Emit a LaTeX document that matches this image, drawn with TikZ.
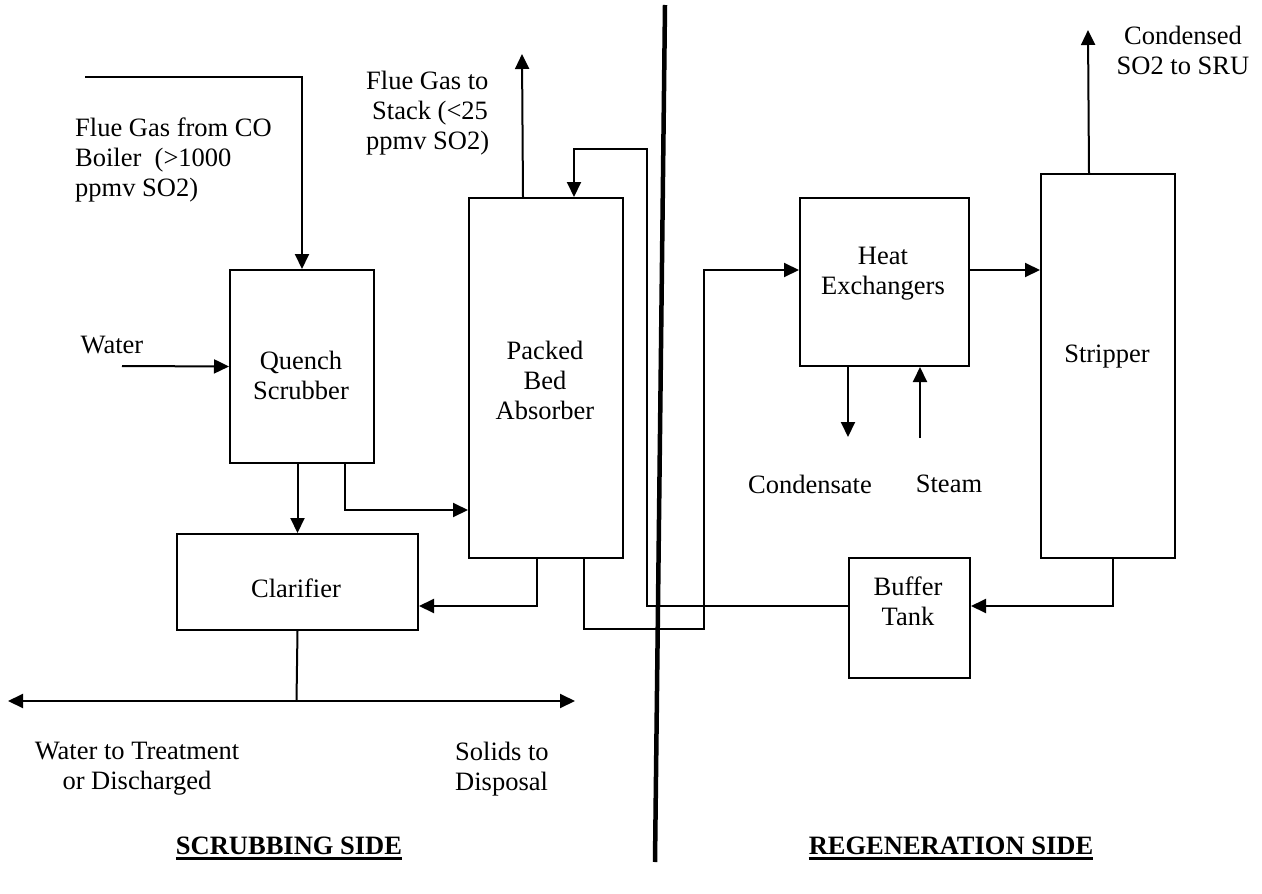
\documentclass[tikz,border=0pt]{standalone}
\usepackage{fontspec}
\setmainfont{Liberation Serif}
\usetikzlibrary{arrows.meta,calc}
\begin{document}
\begin{tikzpicture}[x=1pt,y=-1pt,
  box/.style={draw, line width=2pt, inner sep=0pt, anchor=north west},
  lbl/.style={font=\fontsize{26.5}{30}\selectfont, inner sep=0pt, align=center},
  lbll/.style={lbl, align=left, anchor=west},
  arr/.style={-{Triangle[length=15pt,width=14pt]}, line width=2pt},
  flow/.style={line width=2pt},
  divider/.style={line width=4.5pt},
  side/.style={font=\fontsize{26.5}{30}\selectfont\bfseries, inner sep=0pt},
  uline/.style={line width=2.5pt}
]
\useasboundingbox (0,0) rectangle (1262,894);

% boxes
\node[box, minimum width=144pt, minimum height=193pt] (qs) at (229,269) {};
\node[box, minimum width=154pt, minimum height=360pt] (pb) at (468,197) {};
\node[box, minimum width=241pt, minimum height=96pt]  (cl) at (176,533) {};
\node[box, minimum width=169pt, minimum height=168pt] (hx) at (799,197) {};
\node[box, minimum width=134pt, minimum height=384pt] (st) at (1040,173) {};
\node[box, minimum width=121pt, minimum height=120pt] (bt) at (848,557) {};

% box labels
\node[lbl] (qst) at (301,375) {Quench\\Scrubber};
\node[lbl] (pbt) at (545,380) {Packed\\Bed\\Absorber};
\node[lbl] (clt) at (296,588) {Clarifier};
\node[lbl] (hxt) at (883,274) {Heat\\Exchangers};
\node[lbl] (stt) at (1107,357) {Stripper};
\node[lbl] (btt) at (908,601) {Buffer\\Tank};

% stream labels
\node[lbll] (fgt) at (75,160) {Flue Gas from CO\\Boiler\ \ (>1000\\ppmv SO2)};
\node[lbll] (stkt) at (366,113) {Flue Gas to\\\hspace{6pt}Stack (<25\\ppmv SO2)};
\node[lbl] (srut) at (1183,50) {Condensed\\SO2 to SRU};
\node[lbl] (wtt) at (112,345) {Water};
\node[lbl] (cdt) at (810,484) {Condensate};
\node[lbl] (smt) at (949,484) {Steam};
\node[lbl] (wtrt) at (137,769) {Water to Treatment\\or Discharged};
\node[lbll] (sdt) at (455,769) {Solids to\\Disposal};

% side titles
\node[side] (scr) at (289,846) {SCRUBBING SIDE};
\node[side] (reg) at (951,846) {REGENERATION SIDE};
\draw[uline] ([yshift=-4pt]scr.base west) -- ([yshift=-4pt]scr.base east);
\draw[uline] ([yshift=-4pt]reg.base west) -- ([yshift=-4pt]reg.base east);

% free ends
\coordinate (fgin) at (85,77);
\coordinate (wtr) at (122,366);
\coordinate (stk) at (522,54);
\coordinate (sru) at (1088,30);
\coordinate (cds) at (848,437);
\coordinate (stm) at (920,438);
\coordinate (split) at (296.5,701);
\coordinate (wl) at (8,701);
\coordinate (sr) at (575,701);
\coordinate (rt) at (704,629);
\coordinate (fb) at (647,149);
\coordinate (dtop) at (665,5);
\coordinate (dbot) at (655,862);

% connectors
\draw[arr] (fgin) -| (qs.north);
\draw[arr] (wtr) -- (qs.west);
\draw[arr] (cl.north |- qs.south) -- (cl.north);
\draw[arr] ([xshift=43pt]qs.south) |- ([yshift=-132pt]pb.west);
\draw[arr] ([xshift=-9pt]pb.south) |- ([yshift=-24pt]cl.east);
\draw[arr] ([xshift=38pt]pb.south) |- (rt) |- ([yshift=12pt]hx.west);
\draw[arr] ([yshift=12pt]bt.west) -| (fb) -| ([xshift=28pt]pb.north);
\draw[arr] ([xshift=-23pt]pb.north) -- (stk);
\draw[arr] ([yshift=12pt]hx.east) -- ([yshift=12pt]hx.east -| st.west);
\draw[arr] ([xshift=-19pt]st.north) -- (sru);
\draw[arr] ([xshift=5pt]st.south) |- ([yshift=12pt]bt.east);
\draw[arr] (cds |- hx.south) -- (cds);
\draw[arr] (stm) -- (stm |- hx.south);
\draw[flow] (cl.south) -- (split);
\draw[arr] (split) -- (wl);
\draw[arr] (split) -- (sr);
\draw[divider] (dtop) -- (dbot);
\end{tikzpicture}
\end{document}
